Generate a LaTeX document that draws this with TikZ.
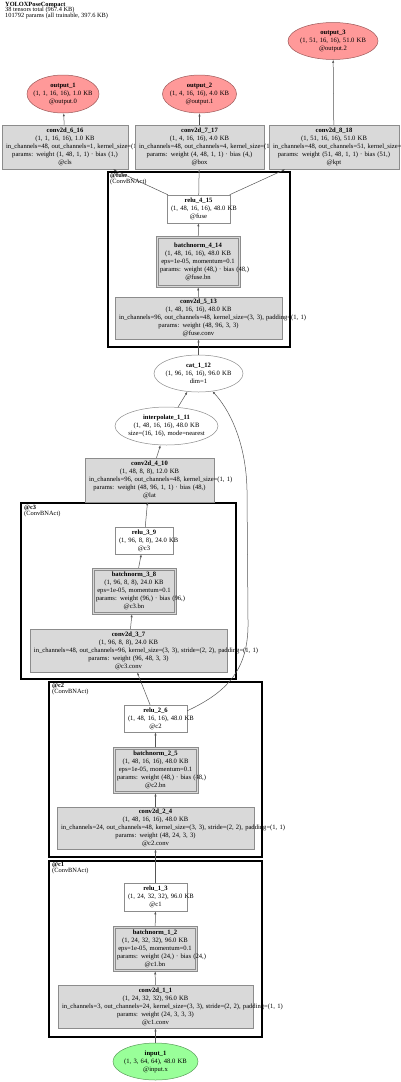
\documentclass[tikz,border=0pt]{standalone}
\usepackage{fontspec}
\setmainfont{Liberation Serif}
\usetikzlibrary{shapes.geometric,arrows.meta,calc}
\definecolor{boxfill}{HTML}{D9D9D9}
\definecolor{boxline}{HTML}{8C8C8C}
\definecolor{outfill}{HTML}{FF9999}
\definecolor{outline}{HTML}{9C5A5A}
\definecolor{infill}{HTML}{99FF99}
\definecolor{inline}{HTML}{5A9C5A}
\definecolor{edgec}{HTML}{555555}
\newcommand\elline[1]{\makebox[\linewidth]{#1}}
\newcommand\tightls{\lineskiplimit=-5pt\relax}
\newcommand\clfont{\fontsize{6.4}{6}\selectfont\tightls}
\newcommand\ttlfont{\fontsize{6.35}{5.5}\selectfont\tightls}
\newcommand\bninner[1]{\draw[draw=boxline, line width=0.5pt] ($(#1.north west)+(2,2)$) rectangle ($(#1.south east)+(-2,-2)$);}
\begin{document}
\begin{tikzpicture}[x=1pt,y=-1pt,
  nfont/.style={font=\fontsize{6.6}{8}\selectfont},
  base/.style={nfont, align=center, inner xsep=4pt, inner ysep=0pt, line width=0.5pt},
  sz/.code 2 args={\pgfmathsetmacro\tmpw{#1-8}\edef\tmpx{\noexpand\pgfkeysalso{minimum width=#1pt,minimum height=#2pt,text width=\tmpw pt}}\tmpx},
  gbox/.style={base, rectangle, draw=boxline, fill=boxfill},
  wbox/.style={base, rectangle, draw=boxline, fill=white},
  bnbox/.style={gbox},
  ell/.style={nfont, ellipse, align=center, inner sep=0pt, text width=48pt, line width=0.5pt},
  outn/.style={ell, draw=outline, fill=outfill},
  inn/.style={ell, draw=inline, fill=infill},
  wel/.style={ell, draw=boxline, fill=white},
  cluster/.style={draw=black, line width=2.2pt},
  clabel/.style={anchor=north west, inner sep=0pt, align=left, font=\clfont},
  title/.style={anchor=north west, inner sep=0pt, align=left, font=\ttlfont},
  edge/.style={draw=edgec, line width=0.5pt, -{Latex[length=3pt,width=2.2pt]}},
]
\useasboundingbox (0,0) rectangle (400,1082);

% title
\node[title] (title) at (5,2) {\textbf{YOLOXPoseCompact}\\38 tensors total (967.4 KB)\\101792 params (all trainable, 397.6 KB)};

% clusters
\draw[cluster] (108,172) rectangle (290,347);
\draw[cluster] (21,503) rectangle (236,679);
\draw[cluster] (49,682) rectangle (262,857);
\draw[cluster] (49,861) rectangle (262,1037);
\node[clabel] (lfuse) at (110,172.5) {\textbf{@fuse}\\(ConvBNAct)};
\node[clabel] (lc3) at (24,505) {\textbf{@c3}\\(ConvBNAct)};
\node[clabel] (lc2) at (52,683.5) {\textbf{@c2}\\(ConvBNAct)};
\node[clabel] (lc1) at (52,862.5) {\textbf{@c1}\\(ConvBNAct)};

% outputs
\node[outn, minimum width=72pt, minimum height=38pt] (out1) at (63,94) {\elline{\textbf{output\_1}}\\\elline{(1, 1, 16, 16), 1.0 KB}\\\elline{@output.0}};
\node[outn, minimum width=74pt, minimum height=38pt] (out2) at (199.5,94) {\elline{\textbf{output\_2}}\\\elline{(1, 4, 16, 16), 4.0 KB}\\\elline{@output.1}};
\node[outn, minimum width=90pt, minimum height=37pt] (out3) at (333,41) {\elline{\textbf{output\_3}}\\\elline{(1, 51, 16, 16), 51.0 KB}\\\elline{@output.2}};

% heads
\node[gbox, sz={126}{44}] (c616) at (65,147) {\mbox{\textbf{conv2d\_6\_16}}\\\mbox{(1, 1, 16, 16), 1.0 KB}\\\mbox{in\_channels=48, out\_channels=1, kernel\_size=(1, 1)}\\\mbox{params: weight (1, 48, 1, 1) · bias (1,)}\\\mbox{@cls}};
\node[gbox, sz={129}{44}] (c717) at (199.5,147) {\mbox{\textbf{conv2d\_7\_17}}\\\mbox{(1, 4, 16, 16), 4.0 KB}\\\mbox{in\_channels=48, out\_channels=4, kernel\_size=(1, 1)}\\\mbox{params: weight (4, 48, 1, 1) · bias (4,)}\\\mbox{@box}};
\node[gbox, sz={130}{44}] (c818) at (334,147) {\mbox{\textbf{conv2d\_8\_18}}\\\mbox{(1, 51, 16, 16), 51.0 KB}\\\mbox{in\_channels=48, out\_channels=51, kernel\_size=(1, 1)}\\\mbox{params: weight (51, 48, 1, 1) · bias (51,)}\\\mbox{@kpt}};

% fuse
\node[wbox, sz={63}{28}] (relu415) at (198.5,209) {\mbox{\textbf{relu\_4\_15}}\\\mbox{(1, 48, 16, 16), 48.0 KB}\\\mbox{@fuse}};
\node[bnbox, sz={84}{51}] (bn414) at (198,261.5) {\mbox{\textbf{batchnorm\_4\_14}}\\\mbox{(1, 48, 16, 16), 48.0 KB}\\\mbox{eps=1e-05, momentum=0.1}\\\mbox{params: weight (48,) · bias (48,)}\\\mbox{@fuse.bn}};
\bninner{bn414}
\node[gbox, sz={167}{42}] (c513) at (198.5,318) {\mbox{\textbf{conv2d\_5\_13}}\\\mbox{(1, 48, 16, 16), 48.0 KB}\\\mbox{in\_channels=96, out\_channels=48, kernel\_size=(3, 3), padding=(1, 1)}\\\mbox{params: weight (48, 96, 3, 3)}\\\mbox{@fuse.conv}};

% neck
\node[wel, minimum width=89pt, minimum height=37pt] (cat) at (198.5,373.5) {\elline{\textbf{cat\_1\_12}}\\\elline{(1, 96, 16, 16), 96.0 KB}\\\elline{dim=1}};
\node[wel, minimum width=103pt, minimum height=38pt] (interp) at (166.5,426) {\elline{\textbf{interpolate\_1\_11}}\\\elline{(1, 48, 16, 16), 48.0 KB}\\\elline{size=(16, 16), mode=nearest}};
\node[gbox, sz={129}{44}] (c410) at (149.5,480) {\mbox{\textbf{conv2d\_4\_10}}\\\mbox{(1, 48, 8, 8), 12.0 KB}\\\mbox{in\_channels=96, out\_channels=48, kernel\_size=(1, 1)}\\\mbox{params: weight (48, 96, 1, 1) · bias (48,)}\\\mbox{@lat}};

% c3
\node[wbox, sz={58}{27}] (relu39) at (144,540.5) {\mbox{\textbf{relu\_3\_9}}\\\mbox{(1, 96, 8, 8), 24.0 KB}\\\mbox{@c3}};
\node[bnbox, sz={84}{46}] (bn38) at (134,591) {\mbox{\textbf{batchnorm\_3\_8}}\\\mbox{(1, 96, 8, 8), 24.0 KB}\\\mbox{eps=1e-05, momentum=0.1}\\\mbox{params: weight (96,) · bias (96,)}\\\mbox{@c3.bn}};
\bninner{bn38}
\node[gbox, sz={197}{43}] (c37) at (128.5,650.5) {\mbox{\textbf{conv2d\_3\_7}}\\\mbox{(1, 96, 8, 8), 24.0 KB}\\\mbox{in\_channels=48, out\_channels=96, kernel\_size=(3, 3), stride=(2, 2), padding=(1, 1)}\\\mbox{params: weight (96, 48, 3, 3)}\\\mbox{@c3.conv}};

% c2
\node[wbox, sz={63}{27}] (relu26) at (155.5,718.5) {\mbox{\textbf{relu\_2\_6}}\\\mbox{(1, 48, 16, 16), 48.0 KB}\\\mbox{@c2}};
\node[bnbox, sz={85}{46}] (bn25) at (155.5,770) {\mbox{\textbf{batchnorm\_2\_5}}\\\mbox{(1, 48, 16, 16), 48.0 KB}\\\mbox{eps=1e-05, momentum=0.1}\\\mbox{params: weight (48,) · bias (48,)}\\\mbox{@c2.bn}};
\bninner{bn25}
\node[gbox, sz={197}{42}] (c24) at (155.5,828) {\mbox{\textbf{conv2d\_2\_4}}\\\mbox{(1, 48, 16, 16), 48.0 KB}\\\mbox{in\_channels=24, out\_channels=48, kernel\_size=(3, 3), stride=(2, 2), padding=(1, 1)}\\\mbox{params: weight (48, 24, 3, 3)}\\\mbox{@c2.conv}};

% c1
\node[wbox, sz={63}{28}] (relu13) at (155.5,897) {\mbox{\textbf{relu\_1\_3}}\\\mbox{(1, 24, 32, 32), 96.0 KB}\\\mbox{@c1}};
\node[bnbox, sz={84}{45}] (bn12) at (155,948.5) {\mbox{\textbf{batchnorm\_1\_2}}\\\mbox{(1, 24, 32, 32), 96.0 KB}\\\mbox{eps=1e-05, momentum=0.1}\\\mbox{params: weight (24,) · bias (24,)}\\\mbox{@c1.bn}};
\bninner{bn12}
\node[gbox, sz={195}{43}] (c11) at (155.5,1006.5) {\mbox{\textbf{conv2d\_1\_1}}\\\mbox{(1, 24, 32, 32), 96.0 KB}\\\mbox{in\_channels=3, out\_channels=24, kernel\_size=(3, 3), stride=(2, 2), padding=(1, 1)}\\\mbox{params: weight (24, 3, 3, 3)}\\\mbox{@c1.conv}};

% input
\node[inn, minimum width=85pt, minimum height=37pt] (inp) at (155.5,1061.5) {\elline{\textbf{input\_1}}\\\elline{(1, 3, 64, 64), 48.0 KB}\\\elline{@input.x}};

% edges
\draw[edge] (inp) -- (c11);
\draw[edge] (c11) -- (bn12);
\draw[edge] (bn12) -- (relu13);
\draw[edge] (relu13) -- (c24);
\draw[edge] (c24) -- (bn25);
\draw[edge] (bn25) -- (relu26);
\draw[edge] (relu26) -- (c37);
\draw[edge] (c37) -- (bn38);
\draw[edge] (bn38) -- (relu39);
\draw[edge] (relu39) -- (c410);
\draw[edge] (c410) -- (interp);
\draw[edge] (interp) -- (cat);
\draw[edge] (cat) -- (c513);
\draw[edge] (c513) -- (bn414);
\draw[edge] (bn414) -- (relu415);
\draw[edge] (relu415) -- (c616);
\draw[edge] (relu415) -- (c717);
\draw[edge] (relu415) -- (c818);
\draw[edge] (c616) -- (out1);
\draw[edge] (c717) -- (out2);
\draw[edge] (c818) -- (out3);
\draw[edge] ($(relu26.north east)+(0,6)$) .. controls (232,690) and (249,665) .. (248,620) -- (247,490) .. controls (246,440) and (228,408) .. (cat.-52);
\end{tikzpicture}
\end{document}
